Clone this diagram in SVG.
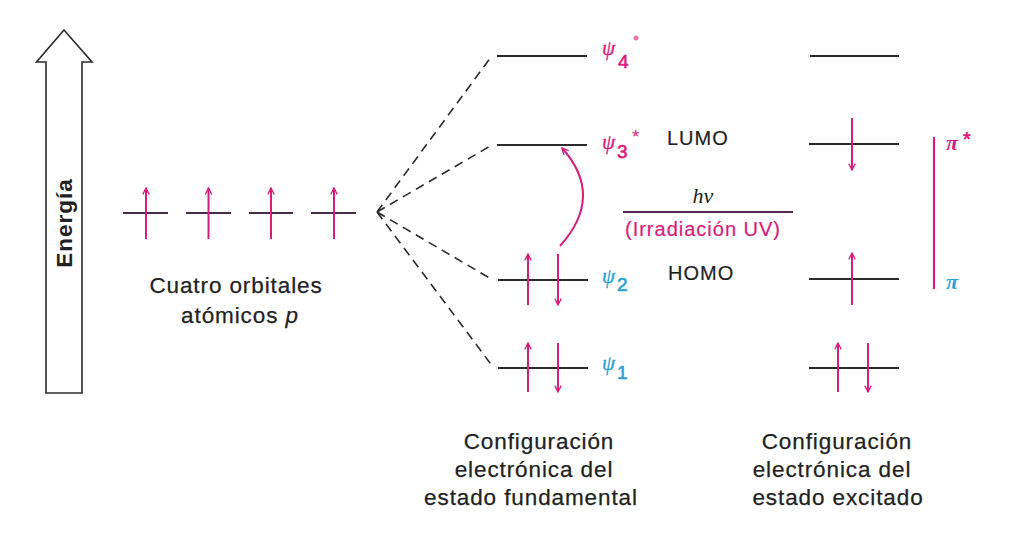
<svg xmlns="http://www.w3.org/2000/svg" width="1012" height="549" viewBox="0 0 1012 549">
<style>
.lvl{stroke:#2b2b2b;stroke-width:2;fill:none}
.plv{stroke:#4a2c48;stroke-width:2;fill:none}
.e{stroke:#d81b7c;stroke-width:2;fill:none;marker-end:url(#ah)}
.dash{stroke:#2b2b2b;stroke-width:1.6;fill:none;stroke-dasharray:9 6}
.t{font-family:"Liberation Sans",Arial,sans-serif;font-size:22.5px;letter-spacing:0.9px;fill:#222;stroke:#222;stroke-width:0.25px;text-anchor:middle}
.lab{font-family:"Liberation Sans",Arial,sans-serif;font-size:20px;letter-spacing:1px;fill:#222;stroke:#222;stroke-width:0.2px}
.psi{font-family:"Liberation Serif","Times New Roman",serif;font-style:italic;font-size:21px}
.sub{font-family:"Liberation Sans",Arial,sans-serif;font-size:19px;stroke-width:0.6px}
.mag{fill:#d81b7c;stroke:#d81b7c}
.cy{fill:#2aa3cf;stroke:#2aa3cf}
.psi.mag,.psi.cy{stroke-width:0.3px}
</style>
<defs>
<marker id="ah" viewBox="0 0 10 10" refX="9" refY="5" markerWidth="4" markerHeight="4" orient="auto" markerUnits="strokeWidth">
<path d="M1,1 L9,5 L1,9" fill="none" stroke="#d81b7c" stroke-width="1.6"/>
</marker>
</defs>

<g id="energy">
<polygon points="64,30 92,62 82,62 82,393 46,393 46,62 36.5,62" fill="#fff" stroke="#2b2b2b" stroke-width="1.6"/>
<text transform="translate(72,223) rotate(-90)" font-family="'Liberation Sans',Arial,sans-serif" font-weight="bold" font-size="22.5" letter-spacing="1" text-anchor="middle" fill="#222">Energía</text>
</g>

<g id="atomic-p">
<path class="plv" d="M123,213H168M186,213H231M249,213H293M311,213H356"/>
<path class="e" d="M146,239V188"/>
<path class="e" d="M208.5,239V188"/>
<path class="e" d="M271,239V188"/>
<path class="e" d="M334,239V188"/>
<text class="t" x="236" y="293">Cuatro orbitales</text>
<text class="t" x="240" y="323">atómicos <tspan font-style="italic">p</tspan></text>
</g>

<g id="connectors">
<path class="dash" d="M377,212L491,57M377,212L492,145M377,212L493,280M377,212L493,367"/>
<path class="e" d="M560,246Q605,196 562,148"/>
<path d="M623,212H793" stroke="#5b2656" stroke-width="2.2"/>
<path d="M934,137V289" stroke="#d81b7c" stroke-width="2.2"/>
</g>

<g id="ground">
<path class="lvl" d="M497,56H587M497,145H587M498,280H588M498,368H588"/>
<path class="e" d="M528,305V254"/>
<path class="e" d="M558,254V305"/>
<path class="e" d="M528,392V343"/>
<path class="e" d="M558,343V392"/>
<text class="psi mag" x="602" y="55">ψ</text><text class="sub mag" x="618" y="68">4</text>
<circle cx="636" cy="38" r="2.5" fill="#d81b7c" opacity="0.6"/>
<text class="psi mag" x="602" y="149">ψ</text><text class="sub mag" x="617" y="158">3</text>
<text x="632" y="143" font-family="'Liberation Sans',Arial,sans-serif" font-size="19" fill="#d81b7c">*</text>
<text class="psi cy" x="602" y="283">ψ</text><text class="sub cy" x="617" y="291">2</text>
<text class="psi cy" x="602" y="370">ψ</text><text class="sub cy" x="617" y="379">1</text>
</g>

<g id="labels">
<text class="lab" x="667" y="145">LUMO</text>
<text class="lab" x="668" y="280">HOMO</text>
<text x="703" y="203" font-family="'Liberation Serif','Times New Roman',serif" font-style="italic" font-size="22" text-anchor="middle" fill="#222">hν</text>
<text class="lab mag" x="703" y="236" text-anchor="middle" stroke-width="0.2">(Irradiación UV)</text>
</g>

<g id="excited">
<path class="lvl" d="M810,56H899M809,144H899M809,279H899M809,368H899"/>
<path class="e" d="M852,118V170"/>
<path class="e" d="M852,305V253"/>
<path class="e" d="M838,392V343"/>
<path class="e" d="M868,343V392"/>
<text x="946" y="150" font-family="'Liberation Serif','Times New Roman',serif" font-style="italic" font-weight="bold" font-size="22" fill="#d81b7c">π</text>
<text x="963" y="146" font-family="'Liberation Sans',Arial,sans-serif" font-weight="bold" font-size="20" fill="#d81b7c">*</text>
<text x="946" y="289" font-family="'Liberation Serif','Times New Roman',serif" font-style="italic" font-weight="bold" font-size="22" fill="#2aa3cf">π</text>
</g>

<g id="captions">
<text class="t" x="539" y="449">Configuración</text>
<text class="t" x="534" y="477">electrónica del</text>
<text class="t" x="531" y="505">estado fundamental</text>
<text class="t" x="837" y="449">Configuración</text>
<text class="t" x="832" y="477">electrónica del</text>
<text class="t" x="838" y="505">estado excitado</text>
</g>
</svg>
